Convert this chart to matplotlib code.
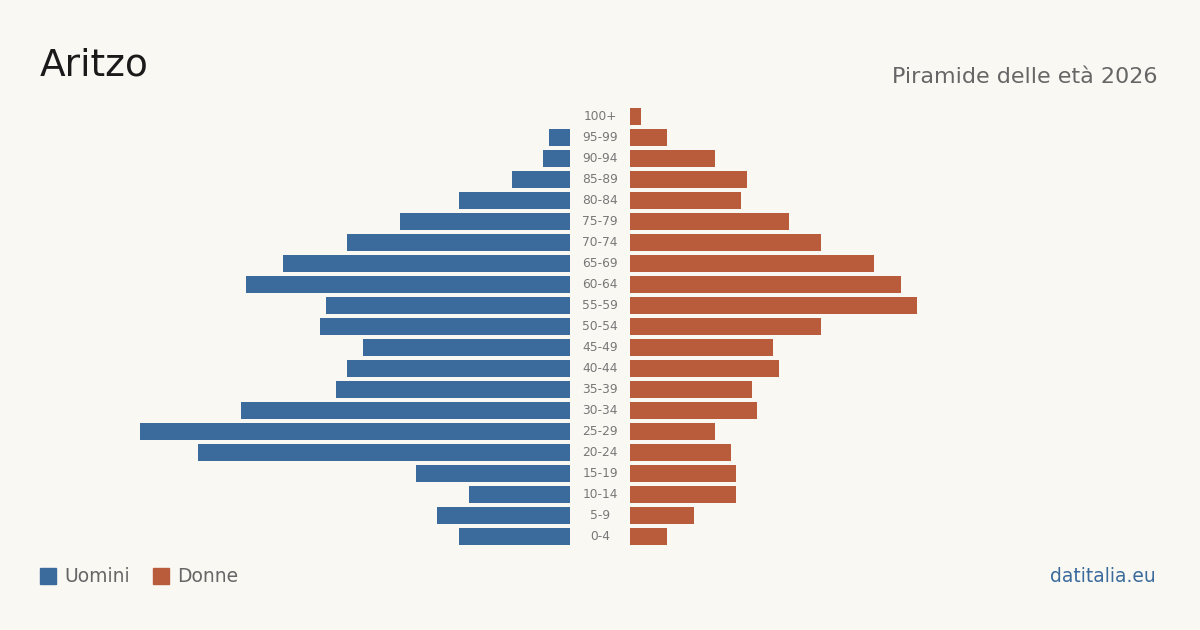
import matplotlib.pyplot as plt
from matplotlib.patches import Rectangle

ages = ['0-4', '5-9', '10-14', '15-19', '20-24', '25-29', '30-34', '35-39',
        '40-44', '45-49', '50-54', '55-59', '60-64', '65-69', '70-74',
        '75-79', '80-84', '85-89', '90-94', '95-99', '100+']
uomini = [21, 25, 19, 29, 70, 81, 62, 44, 42, 39, 47, 46, 61, 54, 42,
          32, 21, 11, 5, 4, 0]
donne = [7, 12, 20, 20, 19, 16, 24, 23, 28, 27, 36, 54, 51, 46, 36,
         30, 21, 22, 16, 7, 2]

BLUE = '#3a6b9c'
ORANGE = '#b95c3c'
BG = '#f9f8f3'
W, H = 1200, 630

plt.rcParams['font.family'] = ['DejaVu Sans']

fig = plt.figure(figsize=(W / 100, H / 100), dpi=100)
fig.patch.set_facecolor(BG)

# axes in pixel geometry: rows 21 px apart, centre of top row at y=116
top, bottom = 106, 547
width = 430
axl = fig.add_axes([(570 - width) / W, (H - bottom) / H, width / W, (bottom - top) / H])
axr = fig.add_axes([630 / W, (H - bottom) / H, width / W, (bottom - top) / H])

y = list(range(len(ages)))
axl.barh(y, uomini, height=0.81, color=BLUE)
axr.barh(y, donne, height=0.81, color=ORANGE)

for ax in (axl, axr):
    ax.set_xlim(0, 81)
    ax.set_ylim(-0.5, len(ages) - 0.5)
    ax.axis('off')
axl.invert_xaxis()

for i, lab in enumerate(ages):
    fig.text(600 / W, axl.transData.transform((0, i))[1] / H, lab,
             ha='center', va='center', fontsize=8.8, color='#777777')

fig.text(40 / W, 1 - 66 / H, 'Aritzo', fontsize=27, color='#1a1a1a',
         ha='left', va='center')
fig.text(1158 / W, 1 - 77 / H, 'Piramide delle età 2026', fontsize=16,
         color='#666666', ha='right', va='center')

# legend
for x0, col, txt in [(40, BLUE, 'Uomini'), (153, ORANGE, 'Donne')]:
    fig.patches.append(Rectangle((x0 / W, 1 - 584 / H), 16 / W, 16 / H,
                                 transform=fig.transFigure, color=col))
    fig.text((x0 + 24) / W, 1 - 576 / H, txt, fontsize=13.5, color='#666666',
             ha='left', va='center')

fig.text(1156 / W, 1 - 576 / H, 'datitalia.eu', fontsize=13.5, color=BLUE,
         ha='right', va='center')

fig.savefig('out.png', dpi=100, facecolor=BG)
